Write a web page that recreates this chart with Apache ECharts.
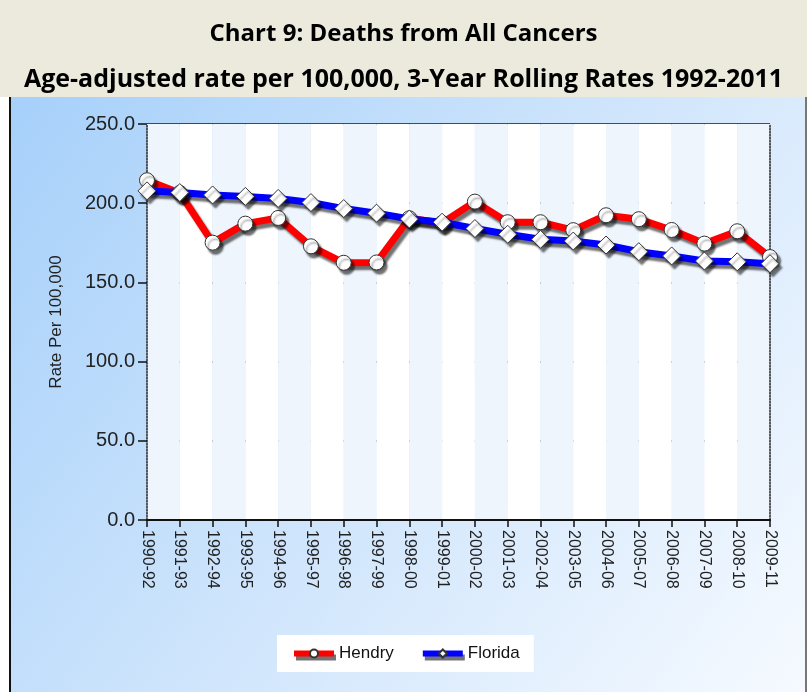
<!DOCTYPE html>
<html>
<head>
<meta charset="utf-8">
<script src="https://cdn.jsdelivr.net/npm/echarts@6/dist/echarts.min.js"></script>
<style>html,body{margin:0;padding:0;background:#fff;}#c{width:807px;height:692px;}</style>
</head>
<body>
<div id="c"></div>
<script>
var categories = ['1990-92','1991-93','1992-94','1993-95','1994-96','1995-97','1996-98','1997-99','1998-00','1999-01','2000-02','2001-03','2002-04','2003-05','2004-06','2005-07','2006-08','2007-09','2008-10','2009-11'];
var hendry = [214.5, 206.5, 175.1, 187.1, 190.7, 172.8, 162.4, 162.6, 190.5, 187.5, 201.0, 188.0, 188.0, 183.0, 192.4, 189.9, 183.1, 174.5, 182.3, 166.0];
var florida = [207.8, 206.7, 205.2, 204.3, 203.0, 200.4, 196.6, 193.7, 190.0, 188.0, 184.0, 180.4, 177.2, 176.1, 173.6, 169.4, 166.7, 163.5, 163.0, 161.8];
var yTicks = {min: 0, max: 250, interval: 50};
var titleText = 'Chart 9: Deaths from All Cancers';
var subtitleText = 'Age-adjusted rate per 100,000, 3-Year Rolling Rates 1992-2011';
var yAxisName = 'Rate Per 100,000';

var chart = echarts.init(document.getElementById('c'));
var labelFont = 'Liberation Sans, Arial, sans-serif';
var shadow = {shadowColor: 'rgba(0,0,0,0.55)', shadowBlur: 2, shadowOffsetX: 3, shadowOffsetY: 4};

chart.setOption({
  backgroundColor: '#ffffff',
  animation: false,
  graphic: [
    {type: 'rect', shape: {x: 0, y: 0, width: 807, height: 97}, style: {fill: '#EBEADD'}, z: -10},
    {type: 'rect', shape: {x: 9, y: 97, width: 798, height: 595},
      style: {fill: new echarts.graphic.LinearGradient(0, 0, 1, 1, [
        {offset: 0, color: '#A6D0FA'}, {offset: 0.5, color: '#CFE5FC'}, {offset: 1, color: '#F6FAFF'}])}, z: -10},
    {type: 'line', shape: {x1: 10, y1: 97, x2: 10, y2: 692}, style: {stroke: '#111', lineWidth: 2}, z: -9},
    {type: 'line', shape: {x1: 806, y1: 97, x2: 806, y2: 692}, style: {stroke: '#777', lineWidth: 2}, z: -9},
    {type: 'text', left: 'center', top: 22, style: {text: titleText, font: 'bold 24px "Open Sans", sans-serif', fill: '#000'}},
    {type: 'text', left: 'center', top: 67, style: {text: subtitleText, font: 'bold 25px "Open Sans", sans-serif', fill: '#000'}}
  ],
  grid: {left: 147, right: 37, top: 124, bottom: 172, containLabel: false},
  legend: {
    left: 277, top: 635, width: 259,
    padding: [10, 14, 10, 14], itemGap: 26,
    backgroundColor: '#ffffff',
    itemWidth: 40, itemHeight: 10,
    lineStyle: {width: 6, shadowColor: 'rgba(0,0,0,0.55)', shadowBlur: 0, shadowOffsetX: 2, shadowOffsetY: 4},
    textStyle: {fontFamily: labelFont, fontSize: 17, color: '#111'},
    data: ['Hendry', 'Florida']
  },
  xAxis: {
    type: 'category', data: categories, boundaryGap: false,
    axisLine: {show: true, lineStyle: {color: '#111', width: 2}},
    axisTick: {show: true, length: 7, lineStyle: {color: '#111', width: 1.5}},
    axisLabel: {rotate: -90, margin: 10, fontFamily: labelFont, fontSize: 16, color: '#222', interval: 0},
    splitLine: {show: false},
    splitArea: {show: true, areaStyle: {color: ['#EEF5FD', '#FFFFFF']}}
  },
  yAxis: [{
    type: 'value', min: yTicks.min, max: yTicks.max, interval: yTicks.interval,
    name: yAxisName, nameLocation: 'middle', nameGap: 82, nameRotate: 90,
    nameTextStyle: {fontFamily: labelFont, fontSize: 17, color: '#222'},
    axisLine: {show: true, lineStyle: {color: '#222', type: 'dotted', width: 1.5}},
    axisTick: {show: true, length: 9, lineStyle: {color: '#111', width: 1.5}},
    axisLabel: {margin: 12, fontFamily: labelFont, fontSize: 20, color: '#222', formatter: function (v) { return v.toFixed(1); }},
    splitLine: {show: true, lineStyle: {color: '#1a1a1a', width: 1.5}}
  }, {
    type: 'value', min: yTicks.min, max: yTicks.max, interval: yTicks.interval, position: 'right',
    axisLine: {show: true, lineStyle: {color: '#222', type: 'dotted', width: 1.5}},
    axisTick: {show: false}, axisLabel: {show: false}, splitLine: {show: false}
  }],
  series: [{
    name: 'Hendry', type: 'line', data: hendry, z: 3,
    symbol: 'circle', symbolSize: 15,
    lineStyle: Object.assign({color: '#FF0000', width: 7}, shadow),
    itemStyle: Object.assign({color: '#ffffff', borderColor: '#333', borderWidth: 1}, shadow)
  }, {
    name: 'Florida', type: 'line', data: florida, z: 4,
    symbol: 'diamond', symbolSize: 18,
    lineStyle: Object.assign({color: '#0000FF', width: 7}, shadow),
    itemStyle: Object.assign({color: '#ffffff', borderColor: '#333', borderWidth: 1}, shadow)
  }]
});
</script>
</body>
</html>
